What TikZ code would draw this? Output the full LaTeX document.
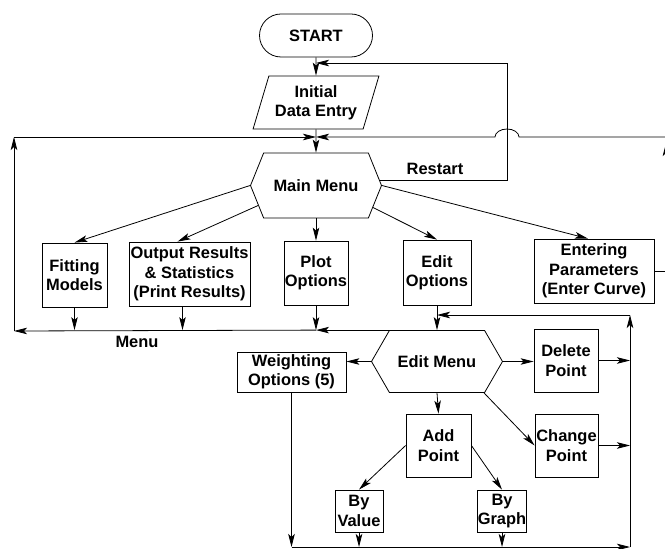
\documentclass[tikz,border=0pt]{standalone}
\usepackage{fontspec}
\setmainfont{Liberation Sans}
\usepackage{tikz}
\usetikzlibrary{shapes.geometric, shapes.misc, shapes.symbols, arrows.meta, calc}

\begin{document}
\begin{tikzpicture}[x=1bp, y=-1bp, line width=0.8pt,
  every node/.style={align=center, inner sep=1bp, font=\bfseries\fontsize{16.5}{19.5}\selectfont},
  box/.style={draw, rectangle},
  hexbox/.style={draw, signal, signal to=east and west, signal pointer angle=#1},
  arr/.style={-{Stealth[length=13bp, width=6.5bp, inset=3bp]}}]
  \useasboundingbox (0,0) rectangle (665,549);
  \def\cx{316} \def\ex{437} \def\rx{630}
  % top of chart
  \node[draw, rounded rectangle, minimum width=115bp, minimum height=43bp] (start) at (\cx,35.5) {START};
  \node[draw, trapezium, trapezium left angle=69, trapezium right angle=111, trapezium stretches=true,
        minimum width=126bp, minimum height=53bp] (ide) at (\cx,102.5) {Initial\\Data Entry};
  \node[hexbox=136, minimum width=131bp, minimum height=65bp] (mm) at (\cx,185.5) {Main Menu};
  % main menu choices
  \node[box, minimum width=65bp, minimum height=64bp] (fm) at (74.5,275) {Fitting\\Models};
  \node[box, minimum width=121bp, minimum height=64bp, inner sep=0bp] (or) at (189.5,274) {Output Results\\\& Statistics\\(Print Results)};
  \node[box, minimum width=64bp, minimum height=64bp] (po) at (\cx,273) {Plot\\Options};
  \node[box, minimum width=68bp, minimum height=65bp] (eo) at (\ex,272.5) {Edit\\Options};
  \node[box, minimum width=120bp, minimum height=64bp] (ep) at (594,271) {Entering\\Parameters\\(Enter Curve)};
  % edit menu
  \node[hexbox=120, minimum width=131bp, minimum height=62bp] (em) at (\ex,361.5) {Edit Menu};
  \node[box, minimum width=109bp, minimum height=40bp] (wo) at (291.5,372) {Weighting\\Options (5)};
  \node[box, minimum width=64bp, minimum height=63bp] (dp) at (566,360.5) {Delete\\Point};
  \node[box, minimum width=65bp, minimum height=63bp] (ap) at (438.5,445.5) {Add\\Point};
  \node[box, minimum width=63bp, minimum height=63bp] (cp) at (566.5,445.5) {Change\\Point};
  \node[box, minimum width=48bp, minimum height=42bp, inner sep=0bp] (bv) at (359,511) {By\\Value};
  \node[box, minimum width=48bp, minimum height=42bp, inner sep=0bp] (bg) at (502,511) {By\\Graph};
  % labels
  \node (rlab) at (435,169) {Restart};
  \node (mlab) at (137,342) {Menu};
  % helper points
  \coordinate (rs) at (\cx,63);
  \coordinate (jt) at (\cx,137);
  \coordinate (ml) at ($(em.north)+(-48,0)$);
  \coordinate (botl) at (0,547);
  \coordinate (rgt) at (\rx,0);
  \coordinate (loopy) at (0,315);
  % main flow
  \draw[arr] (start.south) -- (ide.north);
  \draw[arr] (ide.south) -- (mm.north);
  \draw[arr] ($(mm.east)+(-2,-5)$) -| (507,63) -- (rs);
  \draw[arr] (mm.west) -- (fm.north);
  \draw[arr] ($(mm.west)+(8,20)$) -- ([xshift=-12bp]or.north);
  \draw[arr] (mm.south) -- (po.north);
  \draw[arr] ($(mm.east)+(-9,22)$) -- (eo.north);
  \draw[arr] (mm.east) -- ([xshift=-6bp]ep.north);
  % back to main menu
  \draw[arr] (fm.south) -- (fm.south |- ml);
  \draw[arr] ([xshift=-7bp]or.south) -- ([xshift=-7bp]or.south |- ml);
  \draw[arr] (po.south) -- (po.south |- ml);
  \draw[arr] (ml) -- (po.south |- ml);
  \draw[arr] (po.south |- ml) -- (14,331);
  \draw[arr] (14,331) -- (14,137);
  \draw[arr] (14,137) -- (jt);
  \draw[arr] (ep.east) -| (666,143);
  \draw[arr] (666,137) -- (519,137) arc[start angle=0, end angle=-180, x radius=12, y radius=8] -- (jt);
  % edit loop
  \draw[arr] (eo.south) -- (em.north);
  \draw[arr] (em.west) -- (em.west -| wo.east);
  \draw[arr] (em.east) -- (em.east -| dp.west);
  \draw[arr] (em.south) -- (ap.north);
  \draw[arr] ($(em.south)+(47,0)$) -- (cp.west);
  \draw[arr] (ap.west) -- (bv.north);
  \draw[arr] (ap.east) -- (bg.north);
  \draw[arr] (wo.south) -- (wo.south |- botl);
  \draw[arr] (bv.south) -- (bv.south |- botl);
  \draw[arr] (bg.south) -- (bg.south |- botl);
  \draw[arr] (wo.south |- botl) -- (rgt |- botl);
  \draw[arr] (dp.east) -- (dp.east -| rgt);
  \draw[arr] (cp.east) -- (cp.east -| rgt);
  \draw[arr] (rgt |- botl) -- (rgt |- loopy);
  \draw[arr] (rgt |- loopy) -- (eo.south |- loopy);
\end{tikzpicture}
\end{document}
